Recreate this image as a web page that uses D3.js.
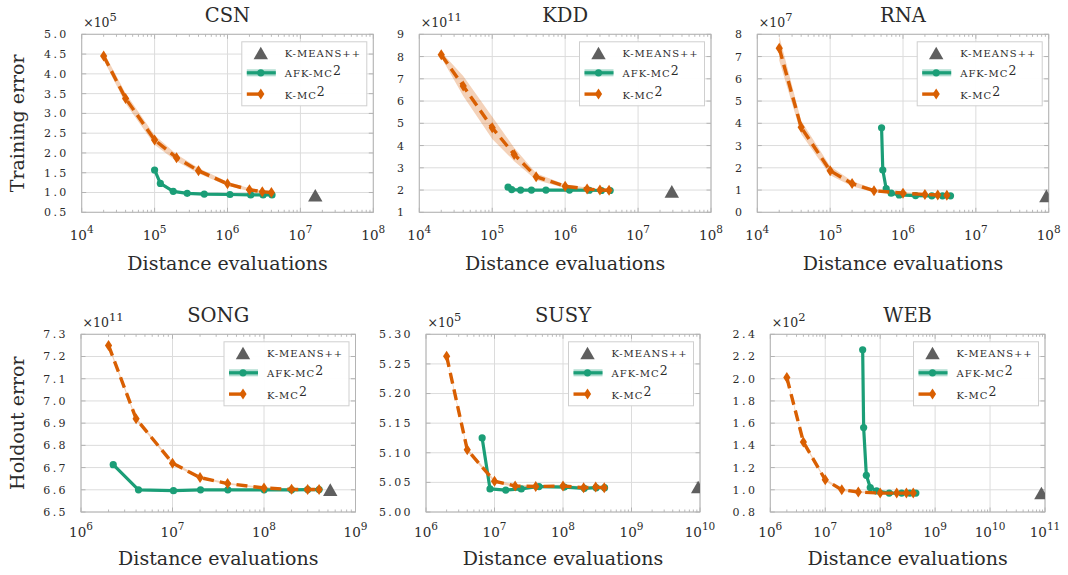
<!DOCTYPE html>
<html>
<head>
<meta charset="utf-8">
<script src="https://cdn.jsdelivr.net/npm/d3@7.9.0/dist/d3.min.js"></script>
<style>
  body { margin: 0; background: #fff; }
  svg { display: block; font-family: "DejaVu Serif", serif; }
</style>
</head>
<body>
<svg id="chart" width="1068" height="575"></svg>
<script>
// ---- data ----
const datasets = ['CSN', 'KDD', 'RNA', 'SONG', 'SUSY', 'WEB'];
const yExponents = [5, 11, 7, 11, 5, 2];

// CSN
const csnKmcX = [2e4, 4e4, 1e5, 2e5, 4e5, 1e6, 2e6, 3e6, 4e6];
const csnKmcY = [4.45, 3.38, 2.33, 1.88, 1.55, 1.22, 1.07, 1.02, 1.00];
const csnKmcErr = [0.1, 0.13, 0.12, 0.09, 0.07, 0.05, 0.04, 0.03, 0.03];
const csnAfkX = [1.0e5, 1.2e5, 1.8e5, 2.8e5, 4.8e5, 1.08e6, 2.08e6, 3.08e6, 4.08e6];
const csnAfkY = [1.57, 1.23, 1.03, 0.98, 0.96, 0.95, 0.94, 0.94, 0.94];
const csnAfkErr = [0.05, 0.04, 0.03, 0.03, 0.03, 0.03, 0.03, 0.03, 0.03];
const csnKpp = [1.6e7, 0.9];
const csnXExp = [4, 5, 6, 7, 8];
const csnYTicks = [0.5, 1.0, 1.5, 2.0, 2.5, 3.0, 3.5, 4.0, 4.5, 5.0];

// KDD
const kddKmcX = [2e4, 4e4, 1e5, 2e5, 4e5, 1e6, 2e6, 3e6, 4e6];
const kddKmcY = [8.08, 6.68, 4.8, 3.6, 2.6, 2.17, 2.05, 2.0, 1.99];
const kddKmcErr = [0.12, 0.45, 0.5, 0.3, 0.15, 0.08, 0.06, 0.05, 0.05];
const kddAfkX = [1.65e5, 1.85e5, 2.45e5, 3.45e5, 5.45e5, 1.145e6, 2.145e6, 3.145e6, 4.145e6];
const kddAfkY = [2.13, 2.02, 2.0, 2.0, 2.0, 2.0, 1.99, 1.98, 1.98];
const kddAfkErr = [0.06, 0.05, 0.05, 0.05, 0.05, 0.05, 0.05, 0.05, 0.05];
const kddKpp = [2.9e7, 1.88];
const kddXExp = [4, 5, 6, 7, 8];
const kddYTicks = [1, 2, 3, 4, 5, 6, 7, 8, 9];

// RNA
const rnaKmcX = [2e4, 4e4, 1e5, 2e5, 4e5, 1e6, 2e6, 3e6, 4e6];
const rnaKmcY = [7.37, 3.82, 1.87, 1.29, 0.97, 0.86, 0.8, 0.78, 0.77];
const rnaKmcErr = [0.55, 0.3, 0.2, 0.12, 0.08, 0.05, 0.04, 0.03, 0.03];
const rnaAfkX = [5.08e5, 5.28e5, 5.88e5, 6.88e5, 8.88e5, 1.488e6, 2.488e6, 3.488e6, 4.488e6];
const rnaAfkY = [3.8, 1.9, 1.06, 0.86, 0.78, 0.75, 0.74, 0.74, 0.74];
const rnaAfkErr = [0.35, 0.15, 0.08, 0.05, 0.05, 0.05, 0.05, 0.05, 0.05];
const rnaKpp = [9.3e7, 0.68];
const rnaXExp = [4, 5, 6, 7, 8];
const rnaYTicks = [0, 1, 2, 3, 4, 5, 6, 7, 8];

// SONG
const songKmcX = [2e6, 4e6, 1e7, 2e7, 4e7, 1e8, 2e8, 3e8, 4e8];
const songKmcY = [7.25, 6.92, 6.72, 6.655, 6.628, 6.608, 6.602, 6.601, 6.601];
const songKmcErr = [0.007, 0.007, 0.006, 0.005, 0.004, 0.004, 0.004, 0.004, 0.004];
const songAfkX = [2.25e6, 4.25e6, 1.025e7, 2.025e7, 4.025e7, 1.0025e8, 2.0025e8, 3.0025e8, 4.0025e8];
const songAfkY = [6.713, 6.600, 6.596, 6.600, 6.600, 6.600, 6.600, 6.601, 6.601];
const songAfkErr = [0.009, 0.005, 0.004, 0.004, 0.004, 0.004, 0.004, 0.004, 0.004];
const songKpp = [5.3e8, 6.595];
const songXExp = [6, 7, 8, 9];
const songYTicks = [6.5, 6.6, 6.7, 6.8, 6.9, 7.0, 7.1, 7.2, 7.3];

// SUSY
const susyKmcX = [2e6, 4e6, 1e7, 2e7, 4e7, 1e8, 2e8, 3e8, 4e8];
const susyKmcY = [5.263, 5.105, 5.052, 5.044, 5.043, 5.044, 5.041, 5.042, 5.041];
const susyKmcErr = [0.0025, 0.003, 0.0025, 0.002, 0.002, 0.002, 0.002, 0.002, 0.002];
const susyAfkX = [6.6e6, 8.6e6, 1.46e7, 2.46e7, 4.46e7, 1.046e8, 2.046e8, 3.046e8, 4.046e8];
const susyAfkY = [5.125, 5.039, 5.037, 5.039, 5.043, 5.042, 5.040, 5.041, 5.041];
const susyAfkErr = [0.002, 0.0015, 0.0015, 0.0015, 0.0015, 0.0015, 0.0015, 0.0015, 0.0015];
const susyKpp = [9.4e9, 5.040];
const susyXExp = [6, 7, 8, 9, 10];
const susyYTicks = [5.00, 5.05, 5.10, 5.15, 5.20, 5.25, 5.30];

// WEB
const webKmcX = [2e6, 4e6, 1e7, 2e7, 4e7, 1e8, 2e8, 3e8, 4e8];
const webKmcY = [2.01, 1.43, 1.09, 1.0, 0.98, 0.97, 0.97, 0.97, 0.97];
const webKmcErr = [0.012, 0.012, 0.012, 0.01, 0.01, 0.008, 0.008, 0.008, 0.008];
const webAfkX = [4.8e7, 5.0e7, 5.6e7, 6.6e7, 8.6e7, 1.46e8, 2.46e8, 3.46e8, 4.46e8];
const webAfkY = [2.26, 1.56, 1.13, 1.02, 0.99, 0.97, 0.97, 0.97, 0.97];
const webAfkErr = [0.012, 0.012, 0.01, 0.01, 0.01, 0.01, 0.01, 0.01, 0.01];
const webKpp = [8.6e10, 0.96];
const webXExp = [6, 7, 8, 9, 10, 11];
const webYTicks = [0.8, 1.0, 1.2, 1.4, 1.6, 1.8, 2.0, 2.2, 2.4];

// ---- layout ----
const rows = [
  { y0: 34.3, y1: 212.3, tickY: 240, titleY: 270, label: 'Training error' },
  { y0: 334.3, y1: 512, tickY: 536.7, titleY: 565, label: 'Holdout error' }
];

const zip = (a, b, c) => a.map((v, i) => [v, b[i], c ? c[i] : 0]);

const panels = [
  { x0: 81.7, x1: 373.3, row: 0, fmt: '.1f', kmc: zip(csnKmcX, csnKmcY, csnKmcErr), afk: zip(csnAfkX, csnAfkY, csnAfkErr), kpp: csnKpp, xExp: csnXExp, yTicks: csnYTicks },
  { x0: 419.3, x1: 711, row: 0, fmt: 'd', kmc: zip(kddKmcX, kddKmcY, kddKmcErr), afk: zip(kddAfkX, kddAfkY, kddAfkErr), kpp: kddKpp, xExp: kddXExp, yTicks: kddYTicks },
  { x0: 757.3, x1: 1048.7, row: 0, fmt: 'd', kmc: zip(rnaKmcX, rnaKmcY, rnaKmcErr), afk: zip(rnaAfkX, rnaAfkY, rnaAfkErr), kpp: rnaKpp, xExp: rnaXExp, yTicks: rnaYTicks },
  { x0: 81, x1: 355.5, row: 1, fmt: '.1f', kmc: zip(songKmcX, songKmcY, songKmcErr), afk: zip(songAfkX, songAfkY, songAfkErr), kpp: songKpp, xExp: songXExp, yTicks: songYTicks },
  { x0: 426, x1: 700, row: 1, fmt: '.2f', kmc: zip(susyKmcX, susyKmcY, susyKmcErr), afk: zip(susyAfkX, susyAfkY, susyAfkErr), kpp: susyKpp, xExp: susyXExp, yTicks: susyYTicks },
  { x0: 770.3, x1: 1045, row: 1, fmt: '.1f', kmc: zip(webKmcX, webKmcY, webKmcErr), afk: zip(webAfkX, webAfkY, webAfkErr), kpp: webKpp, xExp: webXExp, yTicks: webYTicks }
];

const GREEN = '#1b9e77';
const ORANGE = '#d95f02';
const GREY = '#5f5f5f';
const TEXT = '#2b2b2b';

const svg = d3.select('#chart');
const defs = svg.append('defs');

const diamond = 'M0,-5.5L3.6,0L0,5.5L-3.6,0Z';
const triangle = 'M0,-7.6L7.2,5L-7.2,5Z';

function drawPanel(p, idx) {
  const r = rows[p.row];
  const g = svg.append('g');
  const xExp = p.xExp;
  const x = d3.scaleLog()
    .domain([10 ** xExp[0], 10 ** xExp[xExp.length - 1]])
    .range([p.x0, p.x1]);
  const y = d3.scaleLinear()
    .domain([p.yTicks[0], p.yTicks[p.yTicks.length - 1]])
    .range([r.y1, r.y0]);

  const clipId = 'clip' + idx;
  defs.append('clipPath').attr('id', clipId)
    .append('rect')
    .attr('x', p.x0).attr('y', r.y0)
    .attr('width', p.x1 - p.x0).attr('height', r.y1 - r.y0);

  // grid
  const xMajor = xExp.map((e) => 10 ** e);
  g.selectAll('.gx').data(xMajor).join('line')
    .attr('x1', (d) => x(d)).attr('x2', (d) => x(d))
    .attr('y1', r.y0).attr('y2', r.y1)
    .attr('stroke', '#dcdcdc').attr('stroke-width', 1);
  g.selectAll('.gy').data(p.yTicks).join('line')
    .attr('x1', p.x0).attr('x2', p.x1)
    .attr('y1', (d) => y(d)).attr('y2', (d) => y(d))
    .attr('stroke', '#dcdcdc').attr('stroke-width', 1);

  // ticks (inside, all sides)
  let minor = [];
  for (let e = xExp[0]; e < xExp[xExp.length - 1]; e++) {
    for (let k = 2; k < 10; k++) minor.push(k * 10 ** e);
  }
  const tickStroke = '#a8a8a8';
  [r.y1, r.y0].forEach((yy, s) => {
    const dir = s === 0 ? -1 : 1;
    g.selectAll(null).data(minor).join('line')
      .attr('x1', (d) => x(d)).attr('x2', (d) => x(d))
      .attr('y1', yy).attr('y2', yy + dir * 2.5)
      .attr('stroke', tickStroke).attr('stroke-width', 0.8);
    g.selectAll(null).data(xMajor).join('line')
      .attr('x1', (d) => x(d)).attr('x2', (d) => x(d))
      .attr('y1', yy).attr('y2', yy + dir * 4.5)
      .attr('stroke', tickStroke).attr('stroke-width', 0.8);
  });
  [p.x0, p.x1].forEach((xx, s) => {
    const dir = s === 0 ? 1 : -1;
    g.selectAll(null).data(p.yTicks).join('line')
      .attr('x1', xx).attr('x2', xx + dir * 4.5)
      .attr('y1', (d) => y(d)).attr('y2', (d) => y(d))
      .attr('stroke', tickStroke).attr('stroke-width', 0.8);
  });

  // frame
  g.append('rect')
    .attr('x', p.x0).attr('y', r.y0)
    .attr('width', p.x1 - p.x0).attr('height', r.y1 - r.y0)
    .attr('fill', 'none').attr('stroke', '#b4b4b4').attr('stroke-width', 1);

  // data
  const plot = g.append('g').attr('clip-path', `url(#${clipId})`);
  const area = d3.area()
    .x((d) => x(d[0]))
    .y0((d) => y(d[1] - d[2]))
    .y1((d) => y(d[1] + d[2]));
  const line = d3.line().x((d) => x(d[0])).y((d) => y(d[1]));

  plot.append('path').attr('d', area(p.kmc))
    .attr('fill', ORANGE).attr('fill-opacity', 0.28);
  plot.append('path').attr('d', area(p.afk))
    .attr('fill', GREEN).attr('fill-opacity', 0.3);

  plot.append('path').attr('d', line(p.afk))
    .attr('fill', 'none').attr('stroke', GREEN).attr('stroke-width', 3.2)
    .attr('stroke-linejoin', 'round');
  plot.selectAll('.afk').data(p.afk).join('circle')
    .attr('cx', (d) => x(d[0])).attr('cy', (d) => y(d[1]))
    .attr('r', 3.6).attr('fill', GREEN);

  plot.append('path').attr('d', line(p.kmc))
    .attr('fill', 'none').attr('stroke', ORANGE).attr('stroke-width', 3.4)
    .attr('stroke-dasharray', '11,6');
  plot.selectAll('.kmc').data(p.kmc).join('path')
    .attr('d', diamond)
    .attr('transform', (d) => `translate(${x(d[0])},${y(d[1])})`)
    .attr('fill', ORANGE);

  plot.append('path').attr('d', triangle)
    .attr('transform', `translate(${x(p.kpp[0])},${y(p.kpp[1])})`)
    .attr('fill', GREY);

  // tick labels
  const fmt = d3.format(p.fmt);
  g.selectAll('.yl').data(p.yTicks).join('text')
    .attr('x', p.x0 - 13).attr('y', (d) => y(d)).attr('dy', '0.36em')
    .attr('text-anchor', 'end')
    .attr('font-size', 11).attr('letter-spacing', 2.4)
    .attr('fill', TEXT)
    .text((d) => fmt(d));

  const xl = g.selectAll('.xl').data(xExp).join('text')
    .attr('x', (d) => x(10 ** d)).attr('y', r.tickY)
    .attr('text-anchor', 'middle').attr('fill', TEXT);
  xl.append('tspan').attr('font-size', 13.5).text('10');
  xl.append('tspan').attr('font-size', 10.5).attr('dy', -7).text((d) => d);

  // multiplier
  const m = g.append('text').attr('x', p.x0 + 1.5).attr('y', r.y0 - 7.5)
    .attr('fill', TEXT);
  m.append('tspan').attr('font-size', 12.5).text('×10');
  m.append('tspan').attr('font-size', 11.5).attr('dy', -6).text(yExponents[idx]);

  // title
  g.append('text').attr('x', (p.x0 + p.x1) / 2).attr('y', r.y0 - 12.5)
    .attr('text-anchor', 'middle').attr('font-size', 19.5).attr('fill', TEXT)
    .text(datasets[idx]);

  // x axis title
  g.append('text').attr('x', (p.x0 + p.x1) / 2).attr('y', r.titleY)
    .attr('text-anchor', 'middle').attr('font-size', 19).attr('fill', TEXT)
    .text('Distance evaluations');

  // legend
  const lx = p.x1 - 6.5 - 125;
  const ly = r.y0 + 7.5;
  const lg = g.append('g').attr('transform', `translate(${lx},${ly})`);
  lg.append('rect').attr('width', 125).attr('height', 64)
    .attr('fill', '#fff').attr('fill-opacity', 0.95)
    .attr('stroke', '#cfcfcf').attr('stroke-width', 1);
  lg.append('path').attr('d', triangle)
    .attr('transform', 'translate(19,12.5)').attr('fill', GREY);
  lg.append('line').attr('x1', 5).attr('x2', 34).attr('y1', 31).attr('y2', 31)
    .attr('stroke', GREEN).attr('stroke-opacity', 0.35).attr('stroke-width', 7);
  lg.append('line').attr('x1', 5).attr('x2', 34).attr('y1', 31).attr('y2', 31)
    .attr('stroke', GREEN).attr('stroke-width', 3.2);
  lg.append('circle').attr('cx', 19).attr('cy', 31).attr('r', 3.6).attr('fill', GREEN);
  lg.append('line').attr('x1', 5).attr('x2', 18).attr('y1', 52.3).attr('y2', 52.3)
    .attr('stroke', ORANGE).attr('stroke-width', 3.4);
  lg.append('path').attr('d', diamond)
    .attr('transform', 'translate(19,52.3)').attr('fill', ORANGE);

  const names = [['K-MEANS++', ''], ['AFK-MC', '2'], ['K-MC', '2']];
  const baselines = [15.3, 35.3, 57];
  names.forEach((n, i) => {
    const t = lg.append('text').attr('x', 43).attr('y', baselines[i]).attr('fill', TEXT);
    t.append('tspan').attr('font-size', 10).attr('letter-spacing', 1).text(n[0]);
    if (n[1]) t.append('tspan').attr('font-size', 12.5).attr('dy', -2.5).text(n[1]);
  });
}

panels.forEach(drawPanel);

// row labels
rows.forEach((r) => {
  svg.append('text')
    .attr('transform', `translate(24,${(r.y0 + r.y1) / 2}) rotate(-90)`)
    .attr('text-anchor', 'middle').attr('font-size', 19).attr('fill', TEXT)
    .text(r.label);
});
</script>
</body>
</html>
